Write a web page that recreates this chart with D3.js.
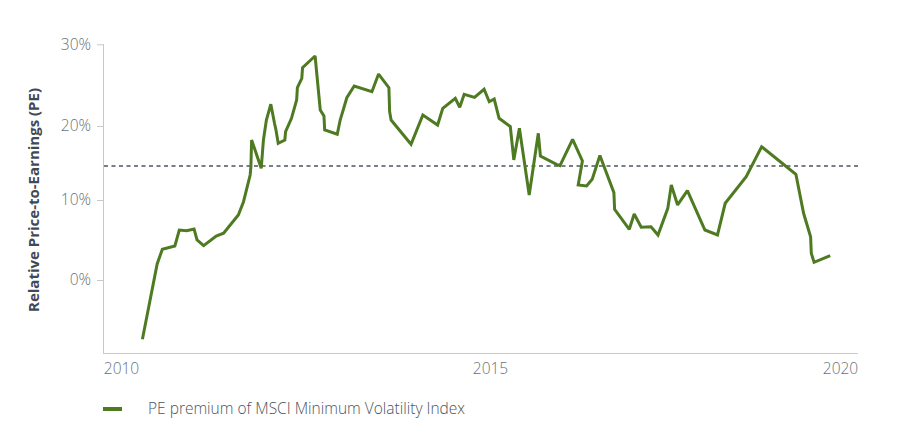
<!DOCTYPE html>
<html>
<head>
<meta charset="utf-8">
<script src="https://cdn.jsdelivr.net/npm/d3@7"></script>
<style>
  html, body { margin: 0; padding: 0; background: #ffffff; }
  svg { display: block; font-family: "Open Sans", "Noto Sans", sans-serif; }
</style>
</head>
<body>
<svg id="chart" width="904" height="444"></svg>
<script>
// ---- data (decimal years, PE premium in %) ----
const dates = [2010.29, 2010.49, 2010.56, 2010.73, 2010.79, 2010.89, 2010.99, 2011.03, 2011.12, 2011.29,
  2011.39, 2011.59, 2011.66, 2011.75, 2011.76, 2011.77, 2011.90, 2011.93, 2011.97, 2012.03,
  2012.08, 2012.10, 2012.13, 2012.22, 2012.23, 2012.31, 2012.38, 2012.39, 2012.45, 2012.46,
  2012.63, 2012.70, 2012.75, 2012.76, 2012.93, 2012.97, 2013.06, 2013.16, 2013.40, 2013.49,
  2013.63, 2013.64, 2013.66, 2013.93, 2014.09, 2014.29, 2014.36, 2014.53, 2014.59, 2014.65,
  2014.79, 2014.92, 2014.99, 2015.06, 2015.13, 2015.29, 2015.34, 2015.42, 2015.56, 2015.69,
  2015.72, 2015.95, 2016.00, 2016.18, 2016.32, 2016.26, 2016.38, 2016.46, 2016.57, 2016.77,
  2016.78, 2016.99, 2017.06, 2017.16, 2017.30, 2017.40, 2017.54, 2017.59, 2017.68, 2017.82,
  2018.07, 2018.25, 2018.36, 2018.66, 2018.88, 2019.37, 2019.48, 2019.58, 2019.59, 2019.63,
  2019.86];
const pePremium = [-7.41, 2.0, 3.84, 4.25, 6.25, 6.16, 6.38, 5.0, 4.29, 5.5,
  5.84, 8.13, 9.79, 13.38, 14.46, 18.11, 14.28, 18.11, 20.73, 22.66,
  20.33, 19.46, 17.66, 18.11, 19.23, 20.94, 23.18, 24.69, 25.84, 27.14,
  28.57, 21.96, 21.22, 19.46, 18.88, 20.73, 23.46, 24.90, 24.20, 26.36,
  24.69, 21.75, 20.73, 17.53, 21.35, 20.12, 22.17, 23.39, 22.29, 23.88,
  23.51, 24.50, 22.97, 23.30, 20.94, 19.91, 15.41, 19.69, 10.68, 19.01,
  15.95, 14.82, 14.64, 18.20, 15.27, 12.03, 11.89, 12.80, 16.01, 10.99,
  8.84, 6.34, 8.25, 6.59, 6.66, 5.63, 8.96, 12.03, 9.38, 11.26,
  6.25, 5.63, 9.59, 13.15, 17.20, 13.47, 8.34, 5.41, 3.34, 2.21,
  3.04];
const averagePremium = 14.6;
const xTicks = [2010, 2015, 2020];
const yTicks = [0, 10, 20, 30];
const yTitle = "Relative Price-to-Earnings (PE)";
const legendLabel = "PE premium of MSCI Minimum Volatility Index";

// ---- layout ----
const svg = d3.select("#chart");
const plot = { left: 103, right: 858, top: 44, bottom: 353 };
const lineColor = "#4e7a21";
const axisColor = "#c9c9c9";
const tickTextColor = "#68717b";
const labelFont = 15.5;

const x = d3.scaleLinear().domain([2010, 2015, 2020]).range([121, 490, 840]);
const y = d3.scaleLinear().domain([0, 10, 20, 30]).range([280, 200, 126, 44.3]);

// y axis
const yAxis = d3.axisLeft(y).tickValues(yTicks).tickSize(6).tickPadding(6)
  .tickFormat(d => d + "%");
const gy = svg.append("g").attr("transform", `translate(${plot.left},0)`).call(yAxis);
gy.select(".domain").remove();
gy.selectAll(".tick line").attr("stroke", axisColor);
gy.selectAll(".tick text").attr("fill", tickTextColor).attr("font-size", labelFont)
  .attr("font-family", "'Open Sans', sans-serif").attr("font-weight", 300);
svg.append("line").attr("x1", plot.left + 0.5).attr("x2", plot.left + 0.5)
  .attr("y1", plot.top).attr("y2", plot.bottom).attr("stroke", axisColor);

// x axis
const xAxis = d3.axisBottom(x).tickValues(xTicks).tickSize(0).tickPadding(10)
  .tickFormat(d3.format("d"));
const gx = svg.append("g").attr("transform", `translate(0,${plot.bottom})`).call(xAxis);
gx.select(".domain").remove();
gx.selectAll(".tick text").attr("fill", tickTextColor).attr("font-size", labelFont)
  .attr("font-family", "'Open Sans', sans-serif").attr("font-weight", 300);
svg.append("line").attr("x1", plot.left).attr("x2", plot.right)
  .attr("y1", plot.bottom + 0.5).attr("y2", plot.bottom + 0.5).attr("stroke", axisColor);

// y title
svg.append("text")
  .attr("transform", `translate(39,${(87 + 313) / 2}) rotate(-90)`)
  .attr("text-anchor", "middle")
  .attr("font-size", 15).attr("font-weight", 700).attr("fill", "#3f4a56")
  .text(yTitle);

// average dashed line
svg.append("line")
  .attr("x1", plot.left + 1).attr("x2", plot.right)
  .attr("y1", y(averagePremium)).attr("y2", y(averagePremium))
  .attr("stroke", "#4a5461").attr("stroke-width", 1.6).attr("stroke-dasharray", "4,3.5");

// series line
const series = dates.map((d, i) => ({ t: d, v: pePremium[i] }));
svg.append("path").datum(series)
  .attr("fill", "none").attr("stroke", lineColor).attr("stroke-width", 3)
  .attr("stroke-linejoin", "miter").attr("stroke-miterlimit", 2)
  .attr("d", d3.line().x(d => x(d.t)).y(d => y(d.v)));

// legend
svg.append("line").attr("x1", 103).attr("x2", 122).attr("y1", 409).attr("y2", 409)
  .attr("stroke", lineColor).attr("stroke-width", 4);
svg.append("text").attr("x", 148).attr("y", 409).attr("dy", "0.35em")
  .attr("font-size", labelFont).attr("font-weight", 300).attr("fill", "#4b535c")
  .text(legendLabel);
</script>
</body>
</html>
